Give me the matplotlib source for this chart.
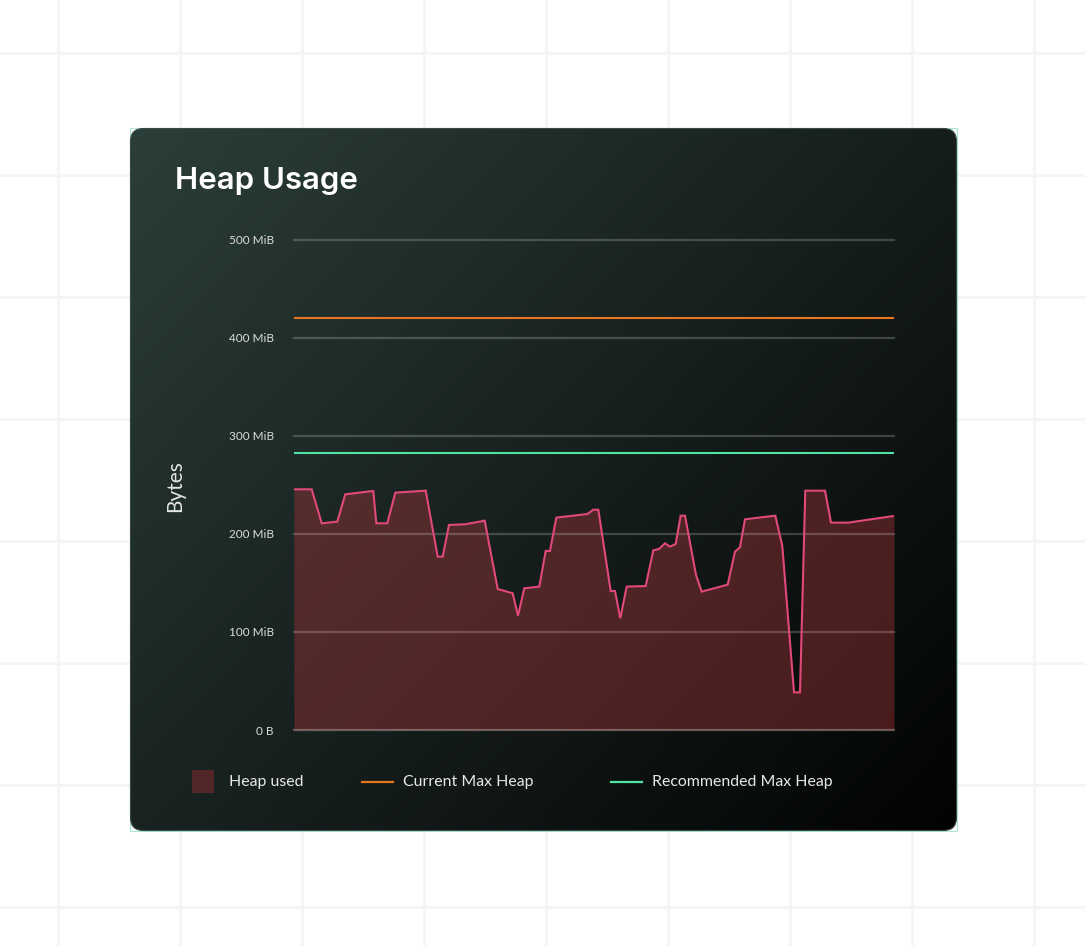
import numpy as np
import matplotlib
matplotlib.use("Agg")
import matplotlib.pyplot as plt
from matplotlib.patches import FancyBboxPatch, Rectangle

# ---------------- data ----------------
time_pts = [0, 17.7, 27.7, 43.3, 51.3, 79.3, 82.3, 93.3, 101.3, 131.7,
            143.7, 148.7, 155, 171, 190.7, 203.7, 218.7, 224, 230.3, 245.3,
            251.7, 256, 262.3, 293.3, 299.3, 304.3, 316.7, 321, 326.3, 332.7,
            351.7, 359.3, 365, 371, 376, 381.7, 386.7, 391, 402, 407.7,
            433.7, 441, 446, 451, 481.3, 488.3, 500, 506, 511.3, 531,
            537, 554.3, 600]
heap_used_mib = [245.6, 245.6, 210.9, 212.6, 240.5, 243.9, 210.9, 210.9, 242.2, 244.2,
                 176.9, 176.9, 209.2, 209.9, 213.6, 143.9, 139.5, 116.7, 144.6, 146.3,
                 182.7, 182.7, 216.7, 220.4, 224.8, 224.8, 141.8, 141.8, 114, 146.3,
                 146.9, 183.3, 184.7, 190.5, 187.1, 189.8, 218.7, 218.7, 158.2, 141.2,
                 148.3, 182, 186.4, 215, 218.7, 187.8, 38.4, 38.4, 244.2, 244.2,
                 211.6, 211.6, 218.4]
current_max_heap_mib = 420.4
recommended_max_heap_mib = 282.7
y_ticks = [0, 100, 200, 300, 400, 500]
y_tick_labels = ["0 B", "100 MiB", "200 MiB", "300 MiB", "400 MiB", "500 MiB"]
title = "Heap Usage"
y_label = "Bytes"
legend_labels = ["Heap used", "Current Max Heap", "Recommended Max Heap"]

# ---------------- figure ----------------
W, H = 1085, 946
fig = plt.figure(figsize=(W / 100, H / 100), dpi=100)
fig.patch.set_facecolor("white")

bg = fig.add_axes([0, 0, 1, 1])
bg.set_xlim(0, W)
bg.set_ylim(H, 0)
bg.axis("off")

# page grid
for gx in [58, 180, 302, 424, 546, 668, 790, 912, 1034]:
    bg.plot([gx, gx], [0, H], color="#f4f4f4", lw=2.0, zorder=0)
for gy in [53, 175, 297, 419, 541, 663, 785, 907]:
    bg.plot([0, W], [gy, gy], color="#f4f4f4", lw=2.0, zorder=0)

# card
cx0, cy0, cx1, cy1 = 130, 128, 957, 831
bg.add_patch(Rectangle((cx0, cy0), cx1 - cx0, cy1 - cy0, fill=False,
                       edgecolor="#a9e3d6", lw=0.8, zorder=1))
card = FancyBboxPatch((cx0 + 0.5, cy0 + 0.5), cx1 - cx0 - 1, cy1 - cy0 - 1,
                      boxstyle="round,pad=0,rounding_size=13",
                      facecolor="none", edgecolor="#3a4a47", lw=0.8, zorder=2)
bg.add_patch(card)
nx, ny = 400, 340
xx, yy = np.meshgrid(np.linspace(0, 1, nx), np.linspace(0, 1, ny))
t = np.clip((xx * 0.55 + yy * 0.45), 0, 1)
c0 = np.array([44, 62, 58]) / 255
c1 = np.array([2, 3, 3]) / 255
img = c0[None, None, :] * (1 - t[..., None]) + c1[None, None, :] * t[..., None]
im = bg.imshow(img, extent=(cx0, cx1, cy1, cy0), aspect="auto", zorder=1.5,
               interpolation="bilinear")
im.set_clip_path(card)

# title and y label
bg.text(175, 189, title, fontsize=22.5, fontfamily="Inter", fontweight="semibold",
        color="white", ha="left", va="baseline", zorder=5)
bg.text(175, 486, y_label, fontsize=15, fontfamily="Lato", color="#e6e6e6",
        rotation=90, ha="center", va="center", zorder=5)

# legend
bg.add_patch(Rectangle((192, 770), 22, 23, facecolor="#532727", edgecolor="none", zorder=5))
bg.text(229, 782, legend_labels[0], fontsize=11.4, fontfamily="Lato", color="#e8e8e8",
        ha="left", va="center", zorder=5)
bg.plot([362, 393], [782, 782], color="#e8761e", lw=1.6, zorder=5)
bg.text(403, 782, legend_labels[1], fontsize=11.4, fontfamily="Lato", color="#e8e8e8",
        ha="left", va="center", zorder=5)
bg.plot([611, 642], [782, 782], color="#52e3a4", lw=1.6, zorder=5)
bg.text(652, 782, legend_labels[2], fontsize=11.4, fontfamily="Lato", color="#e8e8e8",
        ha="left", va="center", zorder=5)

# ---------------- chart axes ----------------
ax = fig.add_axes([294 / W, (H - 730) / H, 600 / W, 490 / H])
ax.set_facecolor("none")
ax.set_xlim(0, 600)
ax.set_ylim(0, 500)
ax.fill_between(time_pts, heap_used_mib, 0, color="#9b3336", alpha=0.45,
                lw=0, zorder=1)
ax.plot(time_pts, heap_used_mib, color="#e0497a", lw=1.5, zorder=4,
        solid_joinstyle="miter")
ax.axhline(current_max_heap_mib, color="#e8761e", lw=1.5, zorder=4)
ax.axhline(recommended_max_heap_mib, color="#52e3a4", lw=1.5, zorder=4)

ax.set_yticks(y_ticks)
ax.set_yticklabels(y_tick_labels)
ax.set_xticks([])
ax.tick_params(axis="y", length=0, pad=14.4, labelsize=8.5, labelcolor="#dcdcdc")
for lab in ax.get_yticklabels():
    lab.set_fontfamily("Lato")
    lab.set_verticalalignment("center_baseline")
ax.set_axisbelow(False)
ax.yaxis.grid(True, color="white", alpha=0.2, lw=1.6, zorder=2.5)
ax.yaxis.get_gridlines()[0].set_alpha(0.28)
for s in ax.spines.values():
    s.set_visible(False)
for gl in ax.yaxis.get_gridlines():
    gl.set_clip_on(False)

fig.savefig("out.png", dpi=100, facecolor=fig.get_facecolor())
